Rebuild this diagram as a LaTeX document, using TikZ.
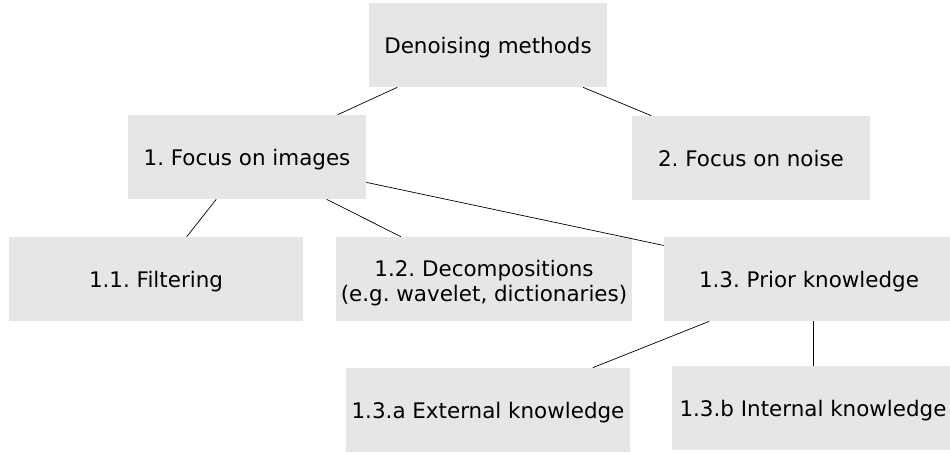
\documentclass[tikz,border=0pt]{standalone}
\usepackage{fontspec}
\setmainfont{DejaVu Sans}
\usepackage{tikz}
\usetikzlibrary{positioning}

\definecolor{boxgray}{HTML}{E6E6E6}
\tikzset{box/.style={fill=boxgray, inner sep=0pt, minimum height=1.68cm, align=center, text height=12.5pt, text depth=3pt, font=\fontsize{12.2}{14.7}\selectfont\frenchspacing}}

\begin{document}
\begin{tikzpicture}
	    \begin{scope}[x=.02cm, y=-.02cm]
	      \useasboundingbox (0,0) rectangle (950,453);
	      \node[box, minimum width=4.76cm] at (488,45) (root) {Denoising methods};
	      \node[box, minimum width=4.76cm] at (247,157) (img) {1. Focus on images};
	      \node[box, minimum width=4.76cm] at (751,158) (noise) {2. Focus on noise};
	      \node[box, minimum width=5.9cm] at (156,279) (filt) {1.1. Filtering};
	      \node[box, minimum width=5.94cm, text height=29pt] at (484,279) (deco) {1.2. Decompositions\\(e.g. wavelet, dictionaries)};
	      \node[box, minimum width=5.8cm] at (809,279) (prior) {1.3. Prior knowledge};
	      \node[box, minimum width=5.7cm] at (488,410) (ext) {1.3.a External knowledge};
	      \node[box, minimum width=5.64cm] at (813,408) (intk) {1.3.b Internal knowledge};
	      \draw[] (root.205) -- (img.25);
	      \draw[] (root.336) -- (noise.157);
	      \draw[] (img.234) -- (filt.54);
	      \draw[] (img.332) -- (deco.153);
	      \draw[] (img.348) -- (prior.167);
	      \draw[] (prior.203) -- (ext.22);
	      \draw[] (intk.north) -- (intk.north |- prior.south);
	    \end{scope}
	    \end{tikzpicture}
\end{document}
